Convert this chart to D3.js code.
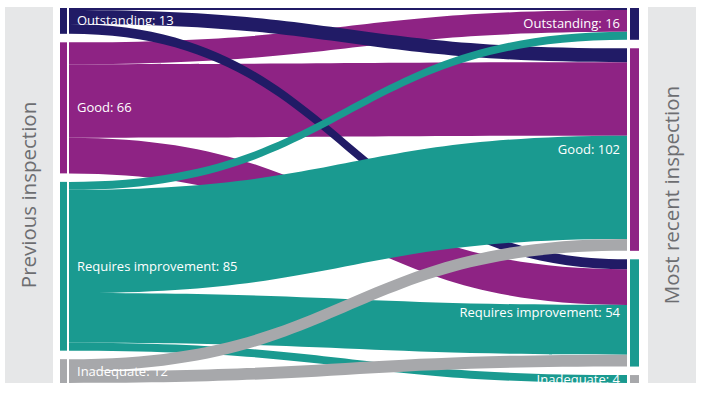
<!DOCTYPE html>
<html>
<head>
<meta charset="utf-8">
<script src="https://cdn.jsdelivr.net/npm/d3@7"></script>
<style>
  html, body { margin: 0; padding: 0; background: #fff; }
  svg { display: block; font-family: "Open Sans", sans-serif; }
</style>
</head>
<body>
<svg id="chart" width="706" height="398"></svg>
<script>
// Ratings, in node order
const levels = ["Outstanding", "Good", "Requires improvement", "Inadequate"];
const previousCounts = [13, 66, 85, 12];
const recentCounts = [16, 102, 54, 4];
// flows[previous][recent]
const flows = [
    [1, 7, 5, 0],
    [11, 37, 18, 0],
    [4, 52, 25, 4],
    [0, 6, 6, 0],
];
const levelColors = ["#211b66", "#8e2384", "#1a9a90", "#a7a8ab"];
// sources painted in this order (later ones on top)
const drawOrder = [1, 0, 2, 3];

const width = 706, height = 398;
const plotTop = 8, plotBottom = 383, nodePad = 8.5;
const leftNode = { x0: 60, x1: 67 }, rightNode = { x0: 630, x1: 639 };
const linkX0 = 69, linkX1 = 627;

const svg = d3.select("#chart");

const total = d3.sum(previousCounts);
const ky = d3.scaleLinear()
    .domain([0, total])
    .range([0, plotBottom - plotTop - nodePad * (levels.length - 1)]);

function layoutNodes(counts) {
    let y = plotTop;
    return counts.map((v, i) => {
        const n = { index: i, value: v, y0: y, y1: y + ky(v) };
        y = n.y1 + nodePad;
        return n;
    });
}
const leftNodes = layoutNodes(previousCounts);
const rightNodes = layoutNodes(recentCounts);

// build links with stacked offsets
const links = [];
flows.forEach((row, s) => row.forEach((v, t) => {
    if (v > 0) links.push({ source: s, target: t, value: v });
}));
leftNodes.forEach((n) => {
    let y = n.y0;
    links.filter((l) => l.source === n.index)
        .sort((a, b) => a.target - b.target)
        .forEach((l) => { l.sy0 = y; y += ky(l.value); l.sy1 = y; });
});
rightNodes.forEach((n) => {
    let y = n.y0;
    links.filter((l) => l.target === n.index)
        .sort((a, b) => a.source - b.source)
        .forEach((l) => { l.ty0 = y; y += ky(l.value); l.ty1 = y; });
});

function ribbon(l) {
    const xm = (linkX0 + linkX1) / 2;
    return `M${linkX0},${l.sy0}C${xm},${l.sy0} ${xm},${l.ty0} ${linkX1},${l.ty0}` +
        `L${linkX1},${l.ty1}C${xm},${l.ty1} ${xm},${l.sy1} ${linkX0},${l.sy1}Z`;
}

// side panels
const panels = [
    { x: 5, w: 48, label: "Previous inspection" },
    { x: 648, w: 48, label: "Most recent inspection" },
];
svg.append("g").selectAll("g")
    .data(panels)
    .join("g")
    .call((g) => g.append("rect")
        .attr("x", (d) => d.x).attr("y", 7)
        .attr("width", (d) => d.w).attr("height", 376)
        .attr("fill", "#e6e7e8"))
    .call((g) => g.append("text")
        .attr("transform", (d) => `translate(${d.x + d.w / 2},${(7 + 383) / 2}) rotate(-90)`)
        .attr("text-anchor", "middle")
        .attr("dy", "0.35em")
        .attr("fill", "#6d6e71")
        .attr("font-size", 20.5)
        .text((d) => d.label));

// links
const sorted = links.slice().sort((a, b) =>
    drawOrder.indexOf(a.source) - drawOrder.indexOf(b.source));
svg.append("g")
    .selectAll("path")
    .data(sorted)
    .join("path")
    .attr("d", ribbon)
    .attr("fill", (d) => levelColors[d.source]);

// node bars
function drawNodes(nodes, pos) {
    svg.append("g")
        .selectAll("rect")
        .data(nodes)
        .join("rect")
        .attr("x", pos.x0)
        .attr("width", pos.x1 - pos.x0)
        .attr("y", (d) => d.y0)
        .attr("height", (d) => d.y1 - d.y0)
        .attr("fill", (d) => levelColors[d.index]);
}
drawNodes(leftNodes, leftNode);
drawNodes(rightNodes, rightNode);

// labels
svg.append("g")
    .attr("fill", "#fff")
    .attr("font-size", 13)
    .selectAll("text")
    .data(leftNodes)
    .join("text")
    .attr("x", 77)
    .attr("y", (d) => (d.y0 + d.y1) / 2)
    .attr("dy", "0.35em")
    .text((d) => `${levels[d.index]}: ${d.value}`);

svg.append("g")
    .attr("fill", "#fff")
    .attr("font-size", 13)
    .attr("text-anchor", "end")
    .selectAll("text")
    .data(rightNodes)
    .join("text")
    .attr("x", 620)
    .attr("y", (d) => (d.y0 + d.y1) / 2)
    .attr("dy", "0.35em")
    .text((d) => `${levels[d.index]}: ${d.value}`);
</script>
</body>
</html>
